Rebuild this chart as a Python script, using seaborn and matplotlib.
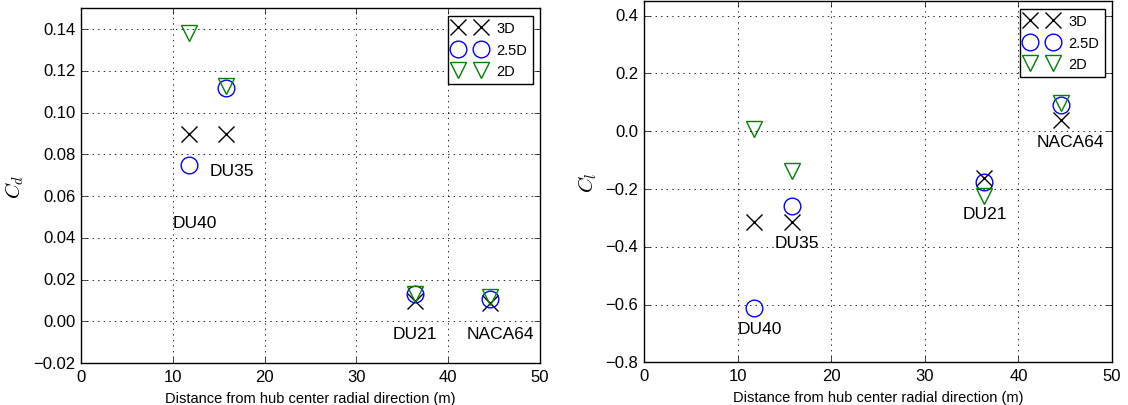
import matplotlib
matplotlib.use("Agg")
import matplotlib.pyplot as plt
import seaborn as sns
import pandas as pd

# Blade stations (m) and the airfoil at each station
radius = [11.75, 15.85, 36.35, 44.55]
airfoils = ["DU40", "DU35", "DU21", "NACA64"]

# Drag coefficient per model
cd_3d = [0.090, 0.090, 0.0096, 0.0090]
cd_25d = [0.075, 0.112, 0.0129, 0.0107]
cd_2d = [0.138, 0.113, 0.0131, 0.0115]

# Lift coefficient per model
cl_3d = [-0.313, -0.313, -0.163, 0.040]
cl_25d = [-0.612, -0.260, -0.177, 0.091]
cl_2d = [0.008, -0.139, -0.223, 0.098]

models = ["3D", "2.5D", "2D"]

# Where the airfoil names sit in each panel
cd_text_xy = [(10, 0.045), (14, 0.07), (34, -0.008), (42, -0.008)]
cl_text_xy = [(10, -0.70), (14, -0.40), (34, -0.30), (42, -0.05)]

plt.style.use("classic")
plt.rcParams.update({
    "font.family": ["Liberation Sans", "DejaVu Sans"],
    "mathtext.fontset": "cm",
    "figure.facecolor": "white",
    "savefig.facecolor": "white",
    "axes.facecolor": "white",
    "xtick.labelsize": 12,
    "ytick.labelsize": 12,
    "legend.fontsize": 10.5,
    "legend.numpoints": 2,
    "grid.color": "k",
    "grid.linestyle": ":",
    "grid.linewidth": 0.6,
})

styles = {
    "3D": dict(marker="x", color="k"),
    "2.5D": dict(marker="o", color="b"),
    "2D": dict(marker="v", color="g"),
}


def panel(ax, series, ylabel, ylim, yticks, text_xy):
    df = pd.DataFrame({"r": radius * 3,
                       "value": series[0] + series[1] + series[2],
                       "model": sum([[m] * len(radius) for m in models], [])})
    for m in models:
        st = styles[m]
        sub = df[df["model"] == m]
        sns.lineplot(data=sub, x="r", y="value", ax=ax, label=m,
                     linestyle="", marker=st["marker"], markersize=12,
                     markerfacecolor="none", markeredgecolor=st["color"],
                     markeredgewidth=1.0, color=st["color"],
                     estimator=None, sort=False)
    for name, (tx, ty) in zip(airfoils, text_xy):
        ax.text(tx, ty, name, fontsize=12.5)
    ax.set_xlim(0, 50)
    ax.set_ylim(*ylim)
    ax.set_yticks(yticks)
    ax.set_xticks([0, 10, 20, 30, 40, 50])
    ax.grid(True)
    ax.set_xlabel("Distance from hub center radial direction (m)", fontsize=10.5)
    ax.set_ylabel(ylabel, fontsize=15)
    leg = ax.legend(loc="upper right", numpoints=2, fontsize=10.5,
                    fancybox=False, framealpha=1, borderaxespad=0.5,
                    handlelength=2.2, handletextpad=0.7)
    leg.get_frame().set_edgecolor("k")
    leg.get_frame().set_linewidth(1.0)


fig = plt.figure(figsize=(11.28, 4.06), dpi=100)
ax1 = fig.add_axes([0.0718, 0.1034, 0.4069, 0.8736])
ax2 = fig.add_axes([0.5709, 0.1052, 0.4149, 0.8892])

panel(ax1, [cd_3d, cd_25d, cd_2d], "$C_d$", (-0.02, 0.15),
      [-0.02, 0.0, 0.02, 0.04, 0.06, 0.08, 0.10, 0.12, 0.14], cd_text_xy)
ax1.set_yticklabels(["\u22120.02", "0.00", "0.02", "0.04", "0.06",
                     "0.08", "0.10", "0.12", "0.14"])
panel(ax2, [cl_3d, cl_25d, cl_2d], "$C_l$", (-0.8, 0.45),
      [-0.8, -0.6, -0.4, -0.2, 0.0, 0.2, 0.4], cl_text_xy)
ax2.set_yticklabels(["\u22120.8", "\u22120.6", "\u22120.4", "\u22120.2",
                     "0.0", "0.2", "0.4"])

fig.savefig("out.png", dpi=100)
